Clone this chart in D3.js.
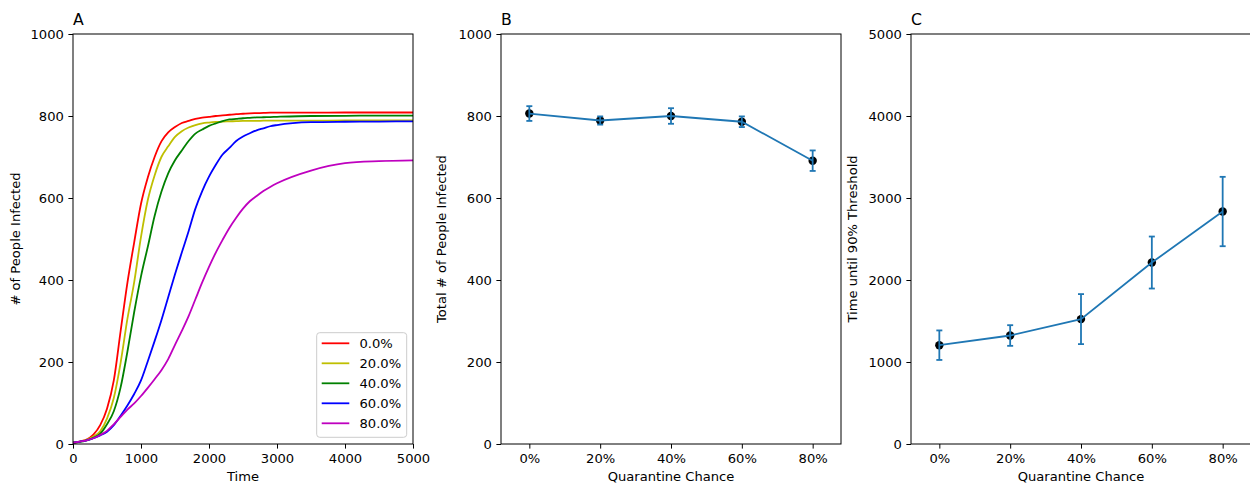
<!DOCTYPE html>
<html>
<head>
<meta charset="utf-8">
<script src="https://cdn.jsdelivr.net/npm/d3@7"></script>
<style>
  html, body { margin: 0; padding: 0; background: #fff; }
  svg { display: block; }
  text { font-family: "DejaVu Sans", sans-serif; fill: #000; }
</style>
</head>
<body>
<svg id="chart" width="1250" height="485"></svg>
<script>
// ---------------- DATA ----------------
const times = [0,100,200,300,400,500,600,700,800,900,1000,1100,1200,1300,1400,1500,1600,1700,1800,1900,2000,2100,2200,2300,2400,2500,2600,2700,2800,2900,3000,3500,4000,4500,5000];
const seriesLabels = ["0.0%", "20.0%", "40.0%", "60.0%", "80.0%"];
const q0  = [3,6,11,23,46,86,155,275,393,492,586,650,700,738,760,773,783,788,793,796,798,800,801.5,803,804.5,805.5,806.5,807,807.5,808,808,808,808.5,808.5,808.5];
const q20 = [3,6,10,18,31,62,112,198,305,395,505,595,655,700,726,749,763,772,778,782,784,785.5,786.5,787,787.5,788,788,788,788.5,788.5,788.5,788.5,789,789,789];
const q40 = [3,5,9,15,25,48,80,138,225,322,409,481,556,615,660,692,716,739,757,767,776,782,787.5,791.5,793,794.5,795.5,796.5,797,797.5,798,800,800.5,801,801];
const q60 = [3,6,9,14,21,30,46,69,94,122,155,202,251,302,358,414,467,519,574,617,652,681,706,722,739,750,758,765,770,775,778,785,786,786.5,787];
const q80 = [3,6,9,14,22,32,48,66,84,99,117,137,158,180,207,242,276,312,353,394,432,467,498,527,552,574,592,605,617,627,636,667,685,690,692];
const seriesValues = [q0, q20, q40, q60, q80];

const chanceLabels = ["0%", "20%", "40%", "60%", "80%"];
const totalMean = [806, 789, 800, 786, 691];
const totalErr  = [18, 10, 19, 13, 25];
const timeMean  = [1205, 1323, 1523, 2213, 2835];
const timeErr   = [180, 126, 305, 317, 423];

const ticksA_x = [0,1000,2000,3000,4000,5000];
const ticksA_y = [0,200,400,600,800,1000];
const ticksB_y = [0,200,400,600,800,1000];
const ticksC_y = [0,1000,2000,3000,4000,5000];

// ---------------- STYLE / LAYOUT ----------------
const colors = ["#ff0000", "#bfbf00", "#008000", "#0000ff", "#bf00bf"];
const tab = "#1f77b4";
const FS = 13.1, TITLE_FS = 15.7, TICK = 4.6, PAD = 4.6;
const TOP = 34, BOTTOM = 444, W = 340;
const lefts = [73, 501, 911];

const svg = d3.select("#chart");

function styleAxis(g) {
  g.selectAll(".domain").remove();
  g.selectAll(".tick line").attr("stroke", "#000").attr("stroke-width", 1);
  g.selectAll(".tick text").attr("font-size", FS).attr("fill", "#000")
    .attr("font-family", "DejaVu Sans, sans-serif");
}

function frame(left, title, xlabel, ylabel, ylabelX) {
  const g = svg.append("g");
  g.append("rect").attr("x", left).attr("y", TOP).attr("width", W).attr("height", BOTTOM - TOP)
    .attr("fill", "none").attr("stroke", "#000").attr("stroke-width", 1);
  g.append("text").attr("x", left).attr("y", 25.3).attr("font-size", TITLE_FS).text(title);
  g.append("text").attr("x", left + W / 2).attr("y", 481.3).attr("text-anchor", "middle")
    .attr("font-size", FS).text(xlabel);
  g.append("text").attr("transform", `translate(${ylabelX},${(TOP + BOTTOM) / 2}) rotate(-90)`)
    .attr("text-anchor", "middle").attr("font-size", FS).text(ylabel);
  return g;
}

// ---------------- PANEL A ----------------
{
  const left = lefts[0];
  const x = d3.scaleLinear().domain([0, 5000]).range([left, left + W]);
  const y = d3.scaleLinear().domain([0, 1000]).range([BOTTOM, TOP]);
  const g = svg.append("g");
  const clip = svg.append("clipPath").attr("id", "clipA");
  clip.append("rect").attr("x", left).attr("y", TOP).attr("width", W).attr("height", BOTTOM - TOP);
  const line = d3.line().x((d, i) => x(times[i])).y(d => y(d)).curve(d3.curveMonotoneX);
  const lg = g.append("g").attr("clip-path", "url(#clipA)");
  seriesValues.forEach((vals, k) => {
    lg.append("path").datum(vals).attr("d", line).attr("fill", "none")
      .attr("stroke", colors[k]).attr("stroke-width", 1.8).attr("stroke-linejoin", "round");
  });
  g.append("g").attr("transform", `translate(0,${BOTTOM})`)
    .call(d3.axisBottom(x).tickValues(ticksA_x).tickFormat(d3.format("d")).tickSize(TICK).tickPadding(PAD).tickSizeOuter(0))
    .call(styleAxis);
  g.append("g").attr("transform", `translate(${left},0)`)
    .call(d3.axisLeft(y).tickValues(ticksA_y).tickFormat(d3.format("d")).tickSize(TICK).tickPadding(PAD).tickSizeOuter(0))
    .call(styleAxis);
  frame(left, "A", "Time", "# of People Infected", 19.5);

  // legend
  const L = svg.append("g");
  L.append("rect").attr("x", 316.7).attr("y", 332.7).attr("width", 90).attr("height", 104.6)
    .attr("rx", 3).attr("fill", "#fff").attr("fill-opacity", 0.8).attr("stroke", "#cccccc").attr("stroke-width", 1);
  seriesLabels.forEach((lab, k) => {
    const yy = 343.3 + k * 20;
    L.append("line").attr("x1", 321.7).attr("x2", 349.3).attr("y1", yy).attr("y2", yy)
      .attr("stroke", colors[k]).attr("stroke-width", 1.8);
    L.append("text").attr("x", 359.5).attr("y", yy).attr("dominant-baseline", "central")
      .attr("font-size", FS).text(lab);
  });
}

// ---------------- PANELS B & C ----------------
function errPanel(left, title, ylabel, ylabelX, means, errs, yMax, yTicks) {
  const x = d3.scaleLinear().domain([-0.4, 4.4]).range([left, left + W]);
  const y = d3.scaleLinear().domain([0, yMax]).range([BOTTOM, TOP]);
  const g = svg.append("g");
  g.append("g").attr("transform", `translate(0,${BOTTOM})`)
    .call(d3.axisBottom(x).tickValues([0,1,2,3,4]).tickFormat(i => chanceLabels[i]).tickSize(TICK).tickPadding(PAD).tickSizeOuter(0))
    .call(styleAxis);
  g.append("g").attr("transform", `translate(${left},0)`)
    .call(d3.axisLeft(y).tickValues(yTicks).tickFormat(d3.format("d")).tickSize(TICK).tickPadding(PAD).tickSizeOuter(0))
    .call(styleAxis);
  // markers
  g.selectAll("circle.pt").data(means).enter().append("circle")
    .attr("cx", (d, i) => x(i)).attr("cy", d => y(d)).attr("r", 4.2).attr("fill", "#000");
  // line
  const line = d3.line().x((d, i) => x(i)).y(d => y(d));
  g.append("path").datum(means).attr("d", line).attr("fill", "none")
    .attr("stroke", tab).attr("stroke-width", 1.8);
  // error bars
  means.forEach((m, i) => {
    const cx = x(i);
    g.append("line").attr("x1", cx).attr("x2", cx).attr("y1", y(m - errs[i])).attr("y2", y(m + errs[i]))
      .attr("stroke", tab).attr("stroke-width", 1.8);
    [m - errs[i], m + errs[i]].forEach(v => {
      g.append("line").attr("x1", cx - 3).attr("x2", cx + 3).attr("y1", y(v)).attr("y2", y(v))
        .attr("stroke", tab).attr("stroke-width", 1.8);
    });
  });
  frame(left, title, "Quarantine Chance", ylabel, ylabelX);
}

errPanel(lefts[1], "B", "Total # of People Infected", 446, totalMean, totalErr, 1000, ticksB_y);
errPanel(lefts[2], "C", "Time until 90% Threshold", 857, timeMean, timeErr, 5000, ticksC_y);
</script>
</body>
</html>
